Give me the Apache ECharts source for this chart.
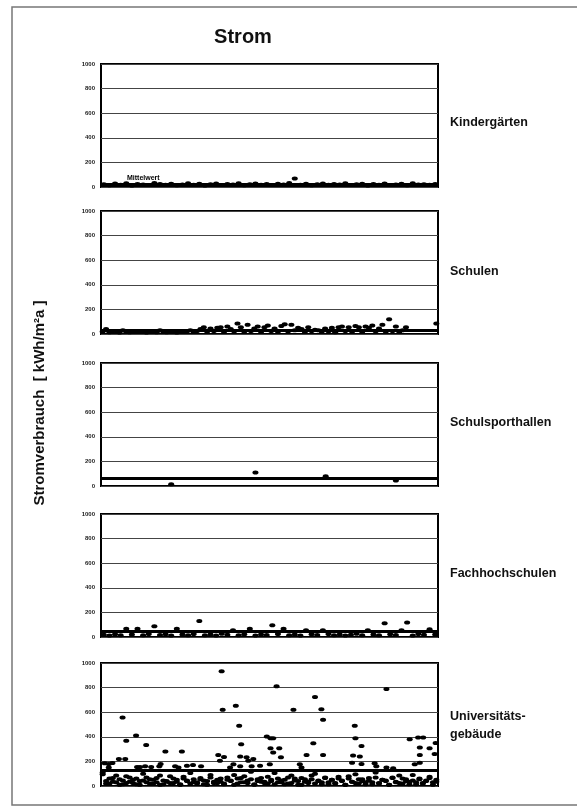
<!DOCTYPE html>
<html>
<head>
<meta charset="utf-8">
<script src="https://cdn.jsdelivr.net/npm/echarts@6/dist/echarts.min.js"></script>
<style>
  html, body { margin: 0; padding: 0; background: #fff; }
  #chart { width: 577px; height: 810px; }
</style>
</head>
<body>
<div id="chart"></div>
<script>
// Stromverbrauch je Gebäudetyp, kWh pro m² und Jahr
const gruppen = ['Kindergärten', 'Schulen', 'Schulsporthallen', 'Fachhochschulen', 'Universitäts-\ngebäude'];
const mittelwerte = [25, 30, 60, 50, 125];
const yTicks = [0, 200, 400, 600, 800, 1000];

const kitaWerte = [22,15,28,18,30,12,25,20,16,32,24,18,27,14,21,30,19,26,13,23,29,17,25,20,31,15,22,28,18,24,16,27,21,33,70,19,26,14,23,29,18,25,20,30,16,22,27,13,24,19,28,17,21,26,15,30,20,23,18,25];

const schulenWerte = [20,40,15,22,25,12,30,18,14,25,20,16,20,12,24,18,15,30,20,14,25,18,12,20,16,22,30,18,24,40,
  55,20,45,25,50,55,18,60,40,22,85,55,20,75,25,45,60,18,55,70,25,45,20,65,80,22,75,30,50,40,
  18,55,25,35,30,20,45,22,50,15,55,60,25,55,20,65,55,18,60,50,70,22,45,75,20,120,25,60,18,30,
  55,null,null,null,null,null,null,null,null,85];

const sporthallenNr = [5, 11, 16, 21];
const sporthallenWerte = [15, 110, 80, 45];

const fhWerte = [18,12,22,15,68,20,68,14,25,88,16,22,12,68,20,15,24,131,14,20,12,26,18,55,15,22,68,12,20,16,
  96,24,68,14,20,12,55,22,16,55,25,14,20,12,18,26,15,55,20,14,112,22,16,55,118,12,24,18,62,20];

// Universitätsgebäude oberhalb des Mittelwerts (Gebäude-Nr. 0–100, Verbrauch)
const uniNr = [35.8,52.1,84.7,63.5,6.4,40.0,36.1,57.1,65.4,65.9,41.0,75.3,10.4,7.5,49.2,50.3,51.1,75.5,91.6,94.1,
  95.6,13.4,41.6,63.0,77.3,97.5,94.6,99.3,19.1,24.0,50.3,52.9,51.1,34.8,61.0,65.9,74.8,94.6,99.0,7.2,
  41.3,43.2,45.2,53.4,76.8,35.3,43.7,1.1,2.3,39.3,50.1,59.0,74.5,77.3,81.2,93.1,94.6,2.3,10.7,13.1,
  17.3,23.0,25.5,29.7,38.3,41.3,44.7,47.2,59.5,81.7,84.7,86.7,3.4,5.3,11.6,14.9,17.7,22.0,27.3,36.5];
const uniOben = [932,810,788,723,557,652,620,620,625,538,489,489,410,367,402,389,389,389,380,394,
  394,334,340,348,326,307,312,350,280,280,307,307,272,253,253,253,247,253,260,220,
  239,234,220,234,239,206,206,185,179,177,177,177,190,179,185,177,190,150,155,160,
  160,150,165,160,150,160,160,165,150,160,150,145,187,220,155,155,178,160,171,236];
// Universitätsgebäude im Bereich des Mittelwerts und darunter
const uniUntenA = [95,40,20,65,30,55,15,80,35,25,60,10,45,70,20,50,30,85,15,40,25,60,35,10,75,45,20,55,30,65,
  15,40,90,25,50,35,20,70,45,10,60,30,80,25,55,15,40,65,35,20,50,105,30,45,15,70,25,60,40,10,
  55,35,85,20,45,30,65,15,50,25,75,40,10,60,35,95,20,55,30,45,15,70,25,50,40,10,65,30,85,20,
  55,35,45,15,60,25,40,75,30,50];
const uniUntenB = [110,20,60,35,85,10,45,25,70,50,15,40,100,30,55,20,65,10,45,35,80,25,50,15,60,40,105,30,20,55,
  45,10,70,35,25,60,15,50,40,90,20,65,30,45,115,10,55,35,25,75,40,15,60,30,50,20,85,45,10,65,
  35,25,55,100,40,15,70,30,50,20,60,45,10,80,35,25,55,40,15,65,30,110,20,50,45,10,70,35,25,60,
  40,15,90,30,55,20,45,65,10,35];

const gridTops = [64, 211, 363, 514, 663];
const plotH = 123;
const font = 'Arial, "Liberation Sans", Helvetica, sans-serif';

const idx = arr => arr.map((_, i) => i);

const grids = gridTops.map(t => ({
  left: 101, width: 337, top: t, height: plotH,
  show: true, borderColor: '#000', borderWidth: 2, backgroundColor: '#fff'
}));

const yAxes = gridTops.map((_, i) => ({
  gridIndex: i, type: 'value', min: yTicks[0], max: yTicks[yTicks.length - 1], interval: 200,
  axisLine: { show: false }, axisTick: { show: false },
  axisLabel: { fontSize: 6, fontWeight: 'bold', color: '#222', margin: 6, fontFamily: font, formatter: v => String(v) },
  splitLine: { lineStyle: { color: '#444', width: 1 } }
}));

const catAxis = (g, arr) => ({ gridIndex: g, type: 'category', data: idx(arr), boundaryGap: true, show: false });
const xAxes = [
  catAxis(0, kitaWerte),
  catAxis(1, schulenWerte),
  { gridIndex: 2, type: 'value', min: 0, max: 24, show: false },
  catAxis(3, fhWerte),
  { gridIndex: 4, type: 'value', min: 0, max: 100, show: false },
  catAxis(4, uniUntenA)
];

const punkt = { color: '#000', opacity: 1 };
const sym = [6, 4];

function meanLine(i, withLabel) {
  return {
    silent: true, symbol: 'none',
    lineStyle: { color: '#000', width: 3, type: 'solid', opacity: 1 },
    label: withLabel ? {
      show: true, position: 'insideStartTop', formatter: 'Mittelwert',
      fontSize: 7, fontWeight: 'bold', color: '#000', fontFamily: font, distance: [26, 2]
    } : { show: false },
    data: [{ yAxis: mittelwerte[i] }]
  };
}

const series = [
  { type: 'scatter', xAxisIndex: 0, yAxisIndex: 0, data: kitaWerte, symbol: 'circle', symbolSize: sym, itemStyle: punkt, markLine: meanLine(0, true) },
  { type: 'scatter', xAxisIndex: 1, yAxisIndex: 1, data: schulenWerte, symbol: 'circle', symbolSize: sym, itemStyle: punkt, markLine: meanLine(1, false) },
  { type: 'scatter', xAxisIndex: 2, yAxisIndex: 2, data: sporthallenNr.map((n, i) => [n, sporthallenWerte[i]]), symbol: 'circle', symbolSize: sym, itemStyle: punkt, markLine: meanLine(2, false) },
  { type: 'scatter', xAxisIndex: 3, yAxisIndex: 3, data: fhWerte, symbol: 'circle', symbolSize: sym, itemStyle: punkt, markLine: meanLine(3, false) },
  { type: 'scatter', xAxisIndex: 4, yAxisIndex: 4, data: uniNr.map((n, i) => [n, uniOben[i]]), symbol: 'circle', symbolSize: sym, itemStyle: punkt, markLine: meanLine(4, false) },
  { type: 'scatter', xAxisIndex: 5, yAxisIndex: 4, data: uniUntenA, symbol: 'circle', symbolSize: sym, itemStyle: punkt },
  { type: 'scatter', xAxisIndex: 5, yAxisIndex: 4, data: uniUntenB, symbol: 'circle', symbolSize: sym, itemStyle: punkt }
];

const labelY = [123, 272, 423, 574, 726];
const graphics = [
  { type: 'rect', shape: { x: 12, y: 7, width: 575, height: 798 }, style: { fill: 'none', stroke: '#777', lineWidth: 1.5 }, silent: true, z: -1 },
  { type: 'text', x: 243, y: 37, style: { text: 'Strom', font: 'bold 20px ' + font, fill: '#111', align: 'center', verticalAlign: 'middle' } },
  { type: 'text', x: 40, y: 403, rotation: Math.PI / 2, style: { text: 'Stromverbrauch  [ kWh/m²a ]', font: 'bold 15px ' + font, fill: '#111', align: 'center', verticalAlign: 'middle' } }
].concat(gruppen.map((g, i) => ({
  type: 'text', x: 450, y: labelY[i],
  style: { text: g, font: 'bold 12.5px ' + font, fill: '#111', align: 'left', verticalAlign: 'middle', lineHeight: 18 }
})));

const chart = echarts.init(document.getElementById('chart'), null, { renderer: 'canvas' });
chart.setOption({
  animation: false,
  backgroundColor: '#fff',
  grid: grids,
  xAxis: xAxes,
  yAxis: yAxes,
  series: series,
  graphic: graphics
});
</script>
</body>
</html>
